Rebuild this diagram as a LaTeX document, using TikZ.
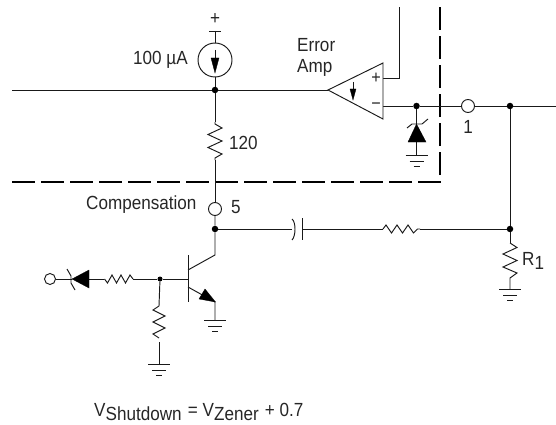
\documentclass[tikz,border=0pt]{standalone}
\usepackage{fontspec}
\setmainfont[FakeStretch=0.9]{Liberation Sans}
\begin{document}
\begin{tikzpicture}[x=1pt,y=-1pt,
  wire/.style={draw=black!90,line width=0.95pt},
  dot/.style={circle,fill=black,inner sep=0pt,minimum size=6.5pt},
  smalldot/.style={circle,fill=black,inner sep=0pt,minimum size=5pt},
  pin/.style={circle,draw=black!90,fill=white,line width=0.95pt,inner sep=0pt,minimum size=13pt},
  lbl/.style={inner sep=0pt,font=\fontsize{19}{21}\selectfont,text=black!85},
  bound/.style={draw=black,line width=2pt,dash pattern=on 23pt off 6pt},
  solid tri/.style={fill=black,draw=black,line width=0.3pt},
]
\useasboundingbox (0,0) rectangle (556,425);
% named points
\coordinate (inL) at (12,90);
\coordinate (supply) at (215,31);
\coordinate (res120t) at (215,122);
\coordinate (res120b) at (215,160);
\coordinate (vs) at (399,7);
\coordinate (outR) at (556,106);
\coordinate (dashL) at (12,182);
\coordinate (dashC) at (440,182);
\coordinate (dashT) at (440,7);
\coordinate (collTop) at (215,255);
\coordinate (collB) at (188,270);
\coordinate (emitB) at (188,287);
\coordinate (emitE) at (215,302);
\coordinate (gnd1) at (215,320);
\coordinate (gnd2) at (159,364);
\coordinate (gnd3) at (510,289);
\coordinate (gnd4) at (416.5,155.5);
\coordinate (baseB) at (188,279);
\coordinate (r1t) at (510,243);
\coordinate (r1b) at (510,278);
\coordinate (r2t) at (159,306);
\coordinate (r2b) at (159,342);
\coordinate (r3l) at (104,279);
\coordinate (r3r) at (133,279);
\coordinate (r4l) at (383,229);
\coordinate (r4r) at (420,229);
\coordinate (capA) at (292,229);
\coordinate (capB) at (302,229);
\coordinate (ampP) at (383,78);
\coordinate (ampM) at (383,106);
\coordinate (ampTip) at (328,90);
\coordinate (zL) at (89,279);
\coordinate (zK) at (72,279);
\coordinate (z2A) at (416.5,142);
\coordinate (z2K) at (416.5,124);
% nodes
\node[dot] (j1) at (215,90) {};
\node[dot] (j2) at (416.5,106) {};
\node[dot] (j3) at (510,106) {};
\node[dot] (j4) at (215,229) {};
\node[dot] (j5) at (510,229) {};
\node[smalldot] (j6) at (160,279) {};
\node[circle,draw=black!90,line width=0.95pt,inner sep=0pt,minimum size=34pt] (src) at (215,60) {};
\node[circle,draw=black!90,line width=0.95pt,inner sep=0pt,minimum size=11pt] (inp) at (50,279) {};
% dashed boundary
\draw[bound] (dashL) -- (dashC) -- (dashT);
% wires
\draw[wire] (inL) -- (j1) -- (ampTip);
\draw[wire] (supply) -- (src);
\draw[wire] (src) -- (j1);
\draw[wire] (j1) -- (res120t);
\draw[wire] (res120t) -- ++(0,2) -- ++(7,4) -- ++(-14,6.5) -- ++(14,6.5) -- ++(-14,6.5) -- ++(14,6.5) -- ++(-7,4) -- (res120b);
\draw[wire] (res120b) -- (215,202);
\draw[wire] (215,216) -- (j4) -- (collTop) -- (collB);
\draw[wire] (j4) -- (capA);
\draw[wire] (capB) -- (r4l);
\draw[wire] (r4l) -- ++(3,-4) -- ++(5.5,8) -- ++(5.5,-8) -- ++(5.5,8) -- ++(5.5,-8) -- ++(5.5,8) -- ++(4,-4) -- (r4r);
\draw[wire] (r4r) -- (j5);
\draw[wire] (ampP) -- (vs |- ampP) -- (vs);
\draw[wire] (ampM) -- (j2) -- (461,106);
\draw[wire] (475,106) -- (j3) -- (outR);
\draw[wire] (j3) -- (j5) -- (r1t);
\draw[wire] (r1t) -- ++(7,4.5) -- ++(-14,6.5) -- ++(14,6.5) -- ++(-14,6.5) -- ++(14,6) -- ++(-7,5) -- (r1b) -- (gnd3);
% gnd symbols
\foreach \g in {gnd1,gnd2,gnd3,gnd4}{
  \draw[wire] ([xshift=-11pt]\g) -- ([xshift=11pt]\g);
  \draw[wire] ([shift={(-7pt,-6pt)}]\g) -- ([shift={(7pt,-6pt)}]\g);
  \draw[wire] ([shift={(-3pt,-11pt)}]\g) -- ([shift={(3pt,-11pt)}]\g);
}
% zener at op-amp
\draw[wire] (j2) -- (z2K);
\draw[wire] (z2A) -- (gnd4);
\path[solid tri] (z2K) -- (426,142) -- (408,142) -- cycle;
\draw[wire] (407,128) -- (412,124) -- (422,124) -- (428,119);
% amp
\draw[wire,fill=white,line join=miter] (ampTip) -- (383,63) -- (383,119) -- cycle;
\draw[wire] (353,82) -- (353,92);
\path[solid tri] (350,89) -- (356,89) -- (353,100) -- cycle;
\node[lbl,font=\fontsize{18}{18}\selectfont] (ampplus) at (376,78) {+};
\node[lbl,font=\fontsize{18}{18}\selectfont] (ampminus) at (376,106) {\char"2212};
% source
\draw[wire] (209,31) -- (221,31);
\draw[wire] (215,50) -- (215,62);
\path[solid tri] (211,58) -- (219,58) -- (215,73) -- cycle;
% cap
\draw[wire] (capA) ++(0,-10) .. controls (296,222) and (296,236) .. (292,240);
\draw[wire] (302,218) -- (302,240);
% pins
\node[pin] (pin5) at (215,209) {};
\node[pin] (pin1) at (468,106) {};
% base, emitter
\draw[wire] (188,255) -- (188,302);
\draw[wire] (emitB) -- (emitE) -- (gnd1);
\path[solid tri] (199,299) -- (215.5,302) -- (205,289) -- cycle;
\draw[wire] (baseB) -- (j6) -- (r3r);
\draw[wire] (r3r) -- ++(-3,-4) -- ++(-4.5,8) -- ++(-4.5,-8) -- ++(-4.5,8) -- ++(-4.5,-8) -- ++(-4.5,8) -- ++(-3,-4);
\draw[wire] (r3l) -- (zL);
\path[solid tri] (zK) -- (89,270) -- (89,288) -- cycle;
\draw[wire] (zK) -- (inp);
\draw[wire] (67,269) -- (71,276) -- (71,283) -- (75,290);
\draw[wire] (j6) -- (r2t);
\draw[wire] (r2t) -- ++(-6,4) -- ++(12,6) -- ++(-12,6) -- ++(12,6) -- ++(-12,6) -- ++(6,4);
\draw[wire] (r2b) -- (gnd2);
% labels
\node[lbl] (plus) at (215,19) {+};
\node[lbl,anchor=west] (l100) at (133,60) {100 µA};
\node[lbl,anchor=west] (l120) at (229,143) {120};
\node[lbl,anchor=west] (lerr) at (297,45) {Error};
\node[lbl,anchor=west] (lamp) at (297,68) {Amp};
\node[lbl,anchor=west] (lcomp) at (86,205) {Compensation};
\node[lbl] (l5) at (236,207) {5};
\node[lbl] (l1) at (468,127) {1};
\node[lbl,anchor=base west] (lr1) at (522,265) {R\raisebox{-4pt}{1}};
\node[lbl,anchor=base west] (lshut) at (94,416.5) {V\raisebox{-4pt}{Shutdown}\hspace{1.5pt} = V\raisebox{-4pt}{Zener}\hspace{1.5pt} + 0.7};
\end{tikzpicture}
\end{document}
